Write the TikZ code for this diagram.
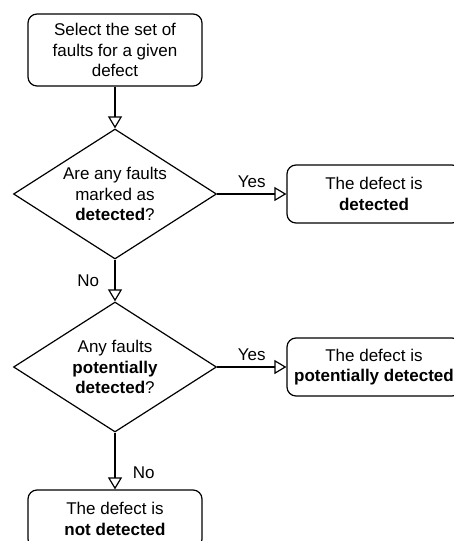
\documentclass[tikz,border=0pt]{standalone}
\usepackage{fontspec}
\setmainfont{Liberation Sans}
\usetikzlibrary{arrows.meta,positioning,shapes.geometric}

\begin{document}
\begin{tikzpicture}[x=1pt,y=-1pt,line width=1.2pt,font=\fontsize{17}{20.5}\selectfont,
  box/.style={draw, rounded corners=9pt, align=center, minimum width=174pt, minimum height=58pt, inner sep=0pt},
  decide/.style={draw, diamond, shape aspect=1.58, align=center, minimum width=203pt, minimum height=130pt, inner sep=0pt},
  flow/.style={-{Triangle[open,width=14pt,length=12pt]}}]
\useasboundingbox (0,0) rectangle (453,541);
\node[box, minimum height=72pt] (select) at (115,50) {Select the set of\\faults for a given\\defect};
\node[decide] (anydet) at (115,194) {Are any faults\\marked as\\\textbf{detected}?};
\node[box] (det) at (374,194) {The defect is\\\textbf{detected}};
\node[decide] (anypot) at (115,367) {Any faults\\\textbf{potentially}\\\textbf{detected}?};
\node[box] (pot) at (374,367) {The defect is\\\textbf{potentially detected}};
\node[box] (notdet) at (115,519) {The defect is\\\textbf{not detected}};
\draw[flow] (select) -- (anydet);
\draw[flow] (anydet) -- node[above=2pt] {Yes} (det);
\draw[flow] (anydet) -- node[left=12pt] {No} (anypot);
\draw[flow] (anypot) -- node[above=2pt] {Yes} (pot);
\draw[flow] (anypot) -- node[pos=0.7,right=14pt] {No} (notdet);
\end{tikzpicture}
\end{document}
